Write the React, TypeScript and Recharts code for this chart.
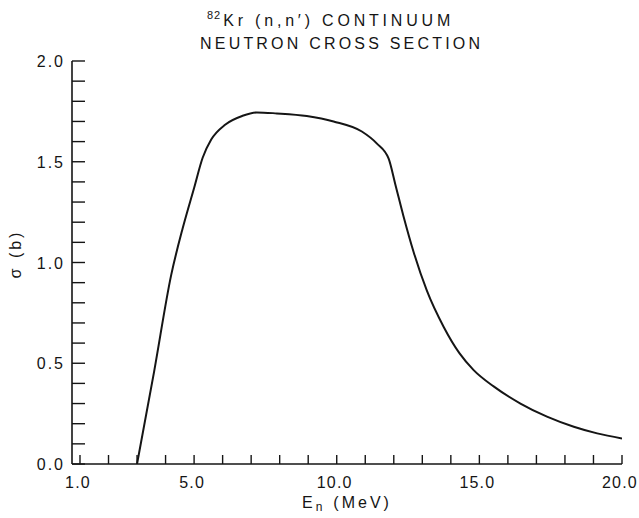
import React from 'react';
import { LineChart, Line, XAxis, YAxis } from 'recharts';

// neutron energy (MeV) and continuum cross section (b)
const energies = [
  3.0, 3.6, 4.2, 4.6, 5.0, 5.3, 5.6, 6.1, 6.7, 7.2, 7.9, 8.95, 9.89,
  10.88, 11.41, 11.82, 12.05, 12.34, 12.7, 13.16, 13.75, 14.3, 14.8, 15.5, 16.44,
  17.37, 18.31, 19.13, 20.0,
];
const sigma = [
  0, 0.46, 0.94, 1.17, 1.37, 1.52, 1.61, 1.685, 1.728, 1.745, 1.74, 1.727, 1.7,
  1.65, 1.59, 1.515, 1.39, 1.23, 1.05, 0.86, 0.68, 0.55, 0.466, 0.385, 0.3,
  0.235, 0.185, 0.152, 0.127,
];

const xTicks = [1, 2, 3, 4, 5, 6, 7, 8, 9, 10, 11, 12, 13, 14, 15, 16, 17, 18, 19, 20];
const xLabels = [1, 5, 10, 15, 20];
const yTicks = [
  0, 0.1, 0.2, 0.3, 0.4, 0.5, 0.6, 0.7, 0.8, 0.9, 1.0, 1.1, 1.2, 1.3, 1.4, 1.5, 1.6,
  1.7, 1.8, 1.9, 2.0,
];
const yLabels = [0, 0.5, 1.0, 1.5, 2.0];

const data = energies.map((e, i) => ({ e, s: sigma[i] }));

const INK = '#151515';
const FONT = '"Liberation Sans", Arial, sans-serif';
const FS = 16;
const LS = 3;
const TICK_LS = 1.2;

const hasLabel = (list: number[], v: number) => list.some((l) => Math.abs(l - v) < 1e-6);

// ticks point into the plot; labels only on the major values
const BottomTick = (props: any) => {
  const { x, y, payload } = props;
  return (
    <g>
      <line x1={x} y1={y} x2={x} y2={y - 9} stroke={INK} strokeWidth={1.4} />
      {hasLabel(xLabels, payload.value) && (
        <text x={x - 2} y={y + 24} textAnchor="middle" fontSize={FS} fill={INK} fontFamily={FONT} letterSpacing={TICK_LS}>
          {payload.value.toFixed(1)}
        </text>
      )}
    </g>
  );
};

const TopTick = (props: any) => {
  const { x, y } = props;
  return <line x1={x} y1={y} x2={x} y2={y + 9} stroke={INK} strokeWidth={1.4} />;
};

const LeftTick = (props: any) => {
  const { x, y, payload } = props;
  return (
    <g>
      <line x1={x} y1={y} x2={x + 13} y2={y} stroke={INK} strokeWidth={1.4} />
      {hasLabel(yLabels, payload.value) && (
        <text x={x - 7} y={y + 6} textAnchor="end" fontSize={FS} fill={INK} fontFamily={FONT} letterSpacing={2}>
          {payload.value.toFixed(1)}
        </text>
      )}
    </g>
  );
};

const RightTick = (props: any) => {
  const { x, y } = props;
  return <line x1={x} y1={y} x2={x - 13} y2={y} stroke={INK} strokeWidth={1.4} />;
};

export default function App() {
  return (
    <div style={{ position: 'absolute', left: 0, top: 0, width: 639, height: 518, background: '#fff' }}>
      <LineChart
        width={639}
        height={518}
        data={data}
        margin={{ top: 61, right: 17, bottom: 14, left: 12 }}
      >
        <XAxis
          dataKey="e"
          type="number"
          domain={[0.72, 20]}
          ticks={xTicks}
          allowDataOverflow
          height={40}
          tickSize={0}
          tickMargin={0}
          tickLine={false}
          tick={<BottomTick />}
          axisLine={{ stroke: INK, strokeWidth: 1.6 }}
          interval={0}
        />
        <XAxis
          xAxisId="top"
          orientation="top"
          dataKey="e"
          type="number"
          domain={[0.72, 20]}
          ticks={xTicks}
          allowDataOverflow
          height={0}
          tickSize={0}
          tickMargin={0}
          tickLine={false}
          tick={<TopTick />}
          axisLine={{ stroke: INK, strokeWidth: 1.6 }}
          interval={0}
        />
        <YAxis
          type="number"
          domain={[0, 2]}
          ticks={yTicks}
          allowDataOverflow
          width={60}
          tickSize={0}
          tickMargin={0}
          tickLine={false}
          tick={<LeftTick />}
          axisLine={{ stroke: INK, strokeWidth: 1.6 }}
          interval={0}
        />
        <YAxis
          yAxisId="right"
          orientation="right"
          type="number"
          domain={[0, 2]}
          ticks={yTicks}
          allowDataOverflow
          width={0}
          tickSize={0}
          tickMargin={0}
          tickLine={false}
          tick={<RightTick />}
          axisLine={{ stroke: INK, strokeWidth: 1.6 }}
          interval={0}
        />
        <Line
          type="monotone"
          dataKey="s"
          stroke={INK}
          strokeWidth={2}
          dot={false}
          isAnimationActive={false}
        />
      </LineChart>
      <svg
        width={639}
        height={518}
        style={{ position: 'absolute', left: 0, top: 0, pointerEvents: 'none' }}
        fontFamily={FONT}
        fill={INK}
      >
        <text x={207} y={26} fontSize={FS} letterSpacing={3.8}>
          <tspan fontSize={11} letterSpacing={1} dy={-7}>82</tspan>
          <tspan dx={2} dy={7}>Kr (n,n′) CONTINUUM</tspan>
        </text>
        <text x={200} y={49} fontSize={FS} letterSpacing={3.2}>
          NEUTRON CROSS SECTION
        </text>
        <text x={302} y={508} fontSize={FS} letterSpacing={LS}>
          <tspan>E</tspan>
          <tspan fontSize={12} dy={3}>n</tspan>
          <tspan dx={8} dy={-3}>(MeV)</tspan>
        </text>
        <text x={21} y={254} fontSize={FS} textAnchor="middle" transform="rotate(-90 21 254)" letterSpacing={LS}>
          σ (b)
        </text>
      </svg>
    </div>
  );
}
